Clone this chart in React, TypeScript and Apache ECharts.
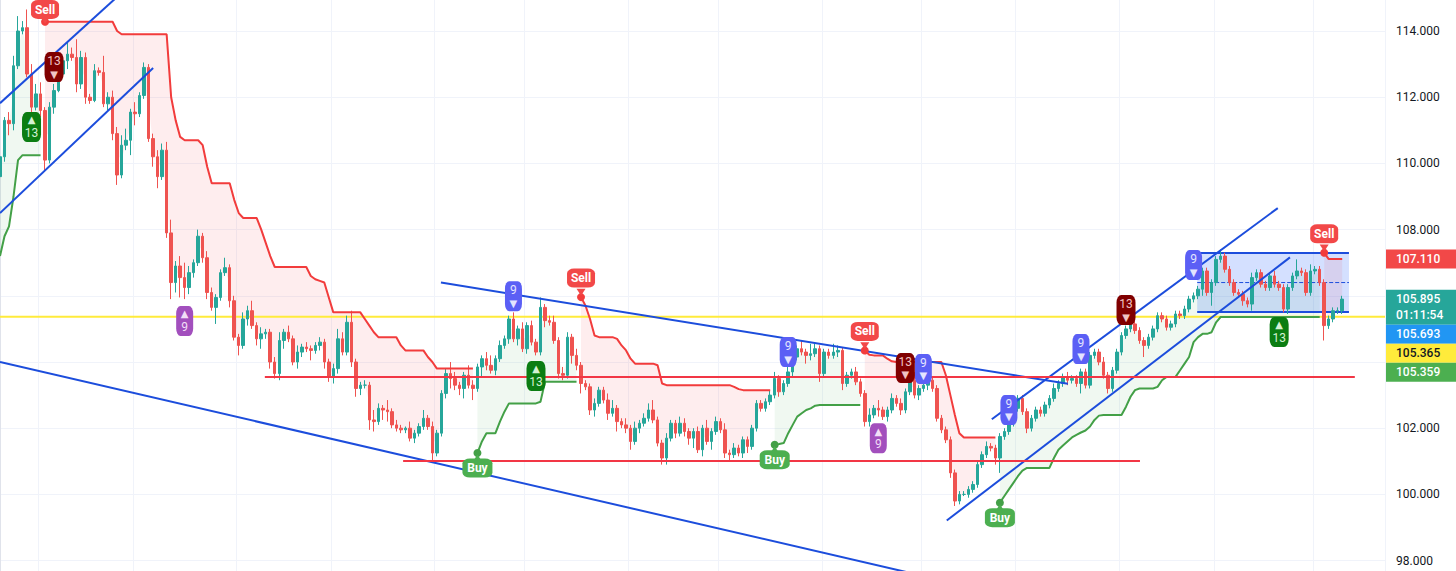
import React, { useEffect, useRef } from 'react';
import * as echarts from 'echarts';

const W = 1456;
const H = 571;

// ---------- price data (one candle per slot, open = previous close) ----------
const firstOpen = 109.6;
const closes = [
  110.2, 111.3, 111.2, 112.95, 114.0, 114.1, 112.7, 111.7, 112.1, 111.6,
  110.1, 111.7, 112.2, 112.7, 113.1, 113.3, 113.2, 112.4, 113.2, 112.0,
  111.9, 112.8, 112.75, 111.8, 112.0, 110.9, 109.65, 110.55, 110.7, 111.55,
  111.5, 112.05, 112.9, 110.75, 110.2, 109.6, 110.4, 107.9, 106.4, 106.9,
  106.55, 106.25, 106.7, 107.0, 107.8, 107.15, 106.1, 105.65, 105.95, 106.7,
  106.85, 105.85, 104.75, 104.5, 105.3, 105.55, 105.1, 104.7, 104.85, 104.9,
  104.0, 103.65, 104.65, 104.9, 104.7, 104.0, 104.3, 104.45, 104.4, 104.35,
  104.5, 104.6, 104.0, 103.55, 103.8, 104.7, 104.3, 105.2, 104.0, 103.2,
  103.3, 103.3, 102.25, 102.2, 102.6, 102.55, 102.5, 102.1, 102.0, 101.95,
  102.0, 101.7, 101.85, 102.05, 102.3, 102.05, 101.25, 101.85, 103.05, 103.65,
  103.5, 103.3, 103.2, 103.6, 103.3, 103.2, 103.85, 104.1, 103.9, 103.75,
  104.1, 104.5, 104.7, 105.3, 104.7, 105.0, 104.4, 105.1, 104.6, 104.3,
  105.65, 105.25, 105.2, 104.65, 103.65, 103.6, 104.75, 104.2, 103.9, 103.35,
  103.25, 102.55, 102.75, 103.15, 102.85, 102.45, 102.6, 102.2, 102.1, 102.0,
  101.6, 102.0, 102.15, 102.3, 102.55, 102.25, 101.55, 101.1, 101.7, 102.15,
  101.85, 102.15, 101.9, 101.7, 101.9, 101.35, 102.0, 101.6, 101.9, 102.2,
  101.95, 101.25, 101.2, 101.4, 101.25, 101.65, 101.45, 102.0, 102.75, 102.6,
  102.8, 103.0, 103.5, 103.1, 103.35, 103.7, 104.15, 104.4, 104.3, 104.2,
  104.25, 104.4, 103.65, 104.3, 104.2, 104.3, 104.35, 103.35, 103.6, 103.7,
  103.4, 103.05, 102.2, 102.4, 102.6, 102.55, 102.35, 102.55, 102.9, 102.75,
  102.55, 103.1, 103.45, 103.0, 103.2, 103.3, 103.45, 103.2, 102.3, 101.95,
  101.65, 100.65, 99.8, 100.0, 100.0, 100.15, 100.3, 100.9, 101.2, 101.45,
  101.4, 101.1, 101.75, 101.9, 102.15, 102.6, 102.9, 102.5, 102.0, 102.3,
  102.55, 102.45, 102.7, 102.9, 103.2, 103.35, 103.55, 103.45, 103.5, 103.35,
  103.7, 103.3, 104.2, 104.3, 104.0, 103.6, 103.2, 103.75, 104.3, 104.8,
  105.0, 105.15, 104.95, 104.65, 104.5, 104.75, 105.0, 105.4, 105.3, 105.05,
  105.15, 105.45, 105.4, 105.6, 105.9, 106.0, 106.2, 106.75, 106.1, 106.4,
  107.1, 107.2, 106.8, 106.4, 106.1, 106.05, 105.85, 105.75, 106.55, 106.7,
  106.35, 106.25, 106.6, 106.35, 106.25, 105.6, 106.25, 106.6, 106.75, 106.7,
  106.1, 106.75, 106.8, 106.4, 105.1, 105.3, 105.55, 105.55, 105.9,
];
const wickUp = [
  0.1, 0.1, 0.25, 0.3, 0.45, 0.2, 0.55, 0.3, 0.3, 0.35, 0.1, 0.15, 0.2, 0.1, 0.15, 0.35, 0.2, 0.55, 0.2, 0.15,
  0.1, 0.2, 0.1, 0.5, 0.15, 0.2, 0.2, 0.3, 0.35, 0.1, 0.3, 0.1, 0.15, 0.1, 0.15, 0.2, 0.2, 0.25, 0.4, 0.15,
  0.3, 0.45, 0.2, 0.1, 0.2, 0.1, 0.2, 0.15, 0.1, 0.1, 0.3, 0.1, 0.15, 0.1, 0.2, 0.15, 0.3, 0.1, 0.2, 0.1,
  0.1, 0.15, 0.25, 0.1, 0.2, 0.1, 0.2, 0.1, 0.15, 0.1, 0.1, 0.15, 0.1, 0.1, 0.15, 0.3, 0.2, 0.2, 0.35, 0.1,
  0.1, 0.15, 0.1, 0.3, 0.15, 0.1, 0.3, 0.1, 0.15, 0.1, 0.05, 0.2, 0.1, 0.1, 0.25, 0.1, 0.15, 0.1, 0.1, 0.15,
  0.35, 0.2, 0.1, 0.1, 0.3, 0.15, 0.1, 0.1, 0.2, 0.3, 0.1, 0.15, 0.1, 0.1, 0.2, 0.1, 0.2, 0.1, 0.15, 0.1,
  0.3, 0.1, 0.15, 0.2, 0.1, 0.2, 0.15, 0.1, 0.2, 0.1, 0.1, 0.1, 0.15, 0.1, 0.1, 0.2, 0.25, 0.1, 0.1, 0.2,
  0.1, 0.2, 0.1, 0.15, 0.2, 0.3, 0.1, 0.1, 0.15, 0.1, 0.1, 0.2, 0.15, 0.1, 0.1, 0.15, 0.1, 0.25, 0.1, 0.15,
  0.1, 0.2, 0.1, 0.15, 0.1, 0.1, 0.1, 0.1, 0.1, 0.1, 0.1, 0.15, 0.2, 0.1, 0.1, 0.15, 0.1, 0.1, 0.25, 0.1,
  0.3, 0.15, 0.1, 0.1, 0.1, 0.25, 0.15, 0.1, 0.1, 0.1, 0.15, 0.1, 0.1, 0.2, 0.1, 0.25, 0.1, 0.1, 0.15, 0.1,
  0.15, 0.1, 0.2, 0.25, 0.1, 0.1, 0.1, 0.1, 0.1, 0.1, 0.1, 0.1, 0.1, 0.1, 0.1, 0.1, 0.1, 0.1, 0.1, 0.15,
  0.1, 0.1, 0.1, 0.1, 0.1, 0.1, 0.1, 0.1, 0.1, 0.1, 0.1, 0.1, 0.1, 0.1, 0.15, 0.1, 0.1, 0.15, 0.1, 0.1,
  0.1, 0.1, 0.1, 0.1, 0.1, 0.15, 0.1, 0.1, 0.1, 0.1, 0.1, 0.1, 0.1, 0.1, 0.1, 0.1, 0.1, 0.1, 0.1, 0.1,
  0.1, 0.1, 0.1, 0.1, 0.1, 0.1, 0.1, 0.1, 0.1, 0.1, 0.1, 0.2, 0.1, 0.1, 0.1, 0.1, 0.1, 0.1, 0.15, 0.1,
  0.1, 0.1, 0.1, 0.15, 0.1, 0.1, 0.1, 0.1, 0.35, 0.1, 0.1, 0.2, 0.1, 0.1, 0.1, 0.1, 0.1, 0.1, 0.1,
];
const wickDn = [
  0.3, 0.15, 0.35, 0.2, 0.1, 0.1, 0.1, 0.15, 0.1, 0.2, 0.35, 0.1, 0.2, 0.05, 0.1, 0.25, 0.1, 0.25, 0.15, 0.2,
  0.1, 0.05, 0.1, 0.1, 0.2, 0.2, 0.3, 0.1, 0.15, 0.45, 0.35, 0.1, 0.1, 0.1, 0.3, 0.35, 0.1, 0.15, 0.5, 0.3,
  0.6, 0.35, 0.2, 0.15, 0.1, 0.15, 0.2, 0.1, 0.5, 0.1, 0.1, 0.2, 0.1, 0.3, 0.1, 0.2, 0.1, 0.2, 0.3, 0.15,
  0.2, 0.15, 0.2, 0.25, 0.1, 0.1, 0.2, 0.15, 0.1, 0.3, 0.1, 0.15, 0.2, 0.15, 0.2, 0.15, 0.1, 0.1, 0.15, 0.25,
  0.2, 0.1, 0.3, 0.3, 0.1, 0.3, 0.3, 0.1, 0.1, 0.1, 0.1, 0.1, 0.15, 0.1, 0.1, 0.1, 0.3, 0.1, 0.1, 0.15,
  0.3, 0.15, 0.2, 0.3, 0.1, 0.35, 0.1, 0.3, 0.15, 0.1, 0.15, 0.1, 0.1, 0.15, 0.1, 0.2, 0.1, 0.15, 0.1, 0.1,
  0.1, 0.2, 0.1, 0.1, 0.15, 0.15, 0.1, 0.25, 0.15, 0.3, 0.1, 0.15, 0.2, 0.1, 0.1, 0.2, 0.1, 0.3, 0.1, 0.15,
  0.25, 0.1, 0.15, 0.1, 0.1, 0.1, 0.1, 0.2, 0.2, 0.1, 0.15, 0.1, 0.15, 0.2, 0.3, 0.1, 0.2, 0.1, 0.25, 0.1,
  0.1, 0.15, 0.2, 0.1, 0.1, 0.15, 0.2, 0.1, 0.1, 0.1, 0.1, 0.1, 0.1, 0.15, 0.1, 0.1, 0.15, 0.1, 0.1, 0.25,
  0.15, 0.1, 0.25, 0.1, 0.1, 0.1, 0.15, 0.2, 0.1, 0.1, 0.1, 0.1, 0.15, 0.15, 0.1, 0.2, 0.1, 0.15, 0.1, 0.1,
  0.15, 0.1, 0.1, 0.1, 0.15, 0.1, 0.15, 0.1, 0.1, 0.1, 0.1, 0.15, 0.15, 0.1, 0.05, 0.1, 0.1, 0.1, 0.1, 0.1,
  0.1, 0.2, 0.45, 0.1, 0.1, 0.1, 0.1, 0.1, 0.15, 0.1, 0.1, 0.1, 0.1, 0.1, 0.1, 0.1, 0.1, 0.15, 0.1, 0.1,
  0.3, 0.1, 0.1, 0.1, 0.1, 0.1, 0.15, 0.1, 0.1, 0.1, 0.1, 0.1, 0.1, 0.1, 0.35, 0.1, 0.1, 0.1, 0.1, 0.1,
  0.1, 0.1, 0.1, 0.1, 0.1, 0.1, 0.1, 0.2, 0.1, 0.4, 0.1, 0.1, 0.1, 0.1, 0.1, 0.1, 0.15, 0.1, 0.2, 0.1,
  0.1, 0.1, 0.1, 0.1, 0.1, 0.1, 0.15, 0.1, 0.1, 0.1, 0.1, 0.1, 0.1, 0.1, 0.45, 0.1, 0.1, 0.1, 0.1,
];

// ---------- Supertrend segments ----------
const upStarts = [0, 106, 172, 222];
const upSeg0 = [107.2, 107.8, 108.1, 109.0, 110.1, 110.25, 110.25, 110.25, 110.25, 110.25];
const upSeg1 = [101.25, 101.6, 101.85, 101.85, 101.85, 102.2, 102.5, 102.75, 102.75, 102.75, 102.75, 102.75,
  102.75, 102.75, 102.8, 103.4, 103.4, 103.4, 103.4, 103.4, 103.4, 103.4, 103.4];
const upSeg2 = [101.5, 101.52, 101.55, 101.85, 102.1, 102.35, 102.45, 102.55, 102.6, 102.68,
  102.7, 102.7, 102.7, 102.7, 102.7, 102.7, 102.7, 102.7, 102.7, 102.7];
const upSeg3 = [99.75, 99.95, 100.15, 100.35, 100.55, 100.72, 100.8, 100.8, 100.8, 100.8, 100.8, 100.8,
  101.1, 101.35, 101.48, 101.6, 101.72, 101.8, 101.87, 101.93, 102.05, 102.25, 102.38,
  102.4, 102.4, 102.4, 102.4, 102.4, 102.65, 102.95, 103.15, 103.2, 103.2, 103.2, 103.2,
  103.25, 103.45, 103.55, 103.55, 103.55, 103.75, 103.95, 104.15, 104.6, 104.75, 104.85, 104.85, 104.9, 105.2,
  105.36, 105.36, 105.36, 105.36, 105.36, 105.36, 105.36, 105.36, 105.36, 105.36, 105.36, 105.36,
  105.36, 105.36, 105.36, 105.36, 105.36, 105.36, 105.36, 105.36, 105.36, 105.36, 105.36];
const dnStarts = [10, 129, 192, 294];
const dnSeg0 = [114.28, 114.28, 114.28, 114.28, 114.28, 114.28, 114.28, 114.28, 114.28, 114.28, 114.28, 114.28,
  114.28, 114.28, 114.28, 114.28, 114.0, 113.9, 113.9, 113.9, 113.9, 113.9, 113.9, 113.9, 113.9, 113.9, 113.9, 113.9,
  112.0, 111.3, 110.8, 110.7, 110.7, 110.7, 110.7, 110.55, 109.9, 109.4, 109.4, 109.4, 109.4, 109.4,
  108.9, 108.5, 108.35, 108.35, 108.35, 108.35, 108.0, 107.6, 107.2,
  106.87, 106.87, 106.87, 106.87, 106.87, 106.87, 106.87, 106.87, 106.6, 106.5, 106.45, 106.4, 105.95,
  105.5, 105.5, 105.5, 105.5, 105.5, 105.5, 105.5, 105.3, 105.1, 104.9, 104.75, 104.75, 104.75, 104.75, 104.75,
  104.5, 104.35, 104.35, 104.35, 104.35, 104.35, 104.15, 104.0, 103.8, 103.8, 103.8, 103.8, 103.8, 103.8, 103.8, 103.8, 103.8];
const dnSeg1 = [105.96, 105.7, 105.3, 104.8, 104.75, 104.75, 104.75, 104.75, 104.7, 104.5, 104.35, 104.1,
  103.95, 103.95, 103.95, 103.95, 103.95, 103.9, 103.35, 103.3, 103.3, 103.3, 103.3, 103.3, 103.3, 103.3,
  103.3, 103.3, 103.3, 103.3, 103.3, 103.3, 103.3, 103.3, 103.25, 103.18, 103.15, 103.15, 103.15, 103.15,
  103.15, 103.15, 103.15];
const dnSeg2 = [104.35, 104.22, 104.2, 104.2, 104.2, 104.1, 104.02, 104.0, 104.0, 104.0, 104.0, 104.0,
  104.0, 104.0, 104.0, 104.0, 104.0, 104.0, 103.6, 103.0, 102.4, 101.85, 101.72, 101.72, 101.72, 101.72,
  101.72, 101.72, 101.72, 101.72];
const dnSeg3 = [107.3, 107.11, 107.11, 107.11, 107.11];

// ---------- TD sequential labels [bar, price of label centre] ----------
const tdBlue9 = [[114, 105.99], [175, 104.3], [205, 103.79], [224, 102.55], [240, 104.39], [265, 106.93]];
const tdRed13 = [[12, 112.91], [201, 103.82], [250, 105.57]];
const tdGreen13 = [[7, 111.1], [119, 103.58], [284, 104.91]];
const tdPurple9 = [[41, 105.24], [195, 101.7]];

// ---------- drawings (bar index, price) ----------
const lineLowerDesc = [[0, 104.0], [222, 97.0]];
const lineUpperDesc = [[97.9, 106.4], [237.1, 103.34]];
const lineTopLeftA = [[0, 111.82], [29, 115.4]];
const lineTopLeftB = [[0, 108.5], [34, 112.88]];
const lineChanLow = [[210.2, 99.21], [286.4, 107.16]];
const lineChanHigh = [[220.2, 102.27], [283.7, 108.65]];
const levelHigh = [[58.8, 103.55], [300.8, 103.55]];
const levelLow = [[89.5, 101.01], [253.1, 101.01]];
const yellowLevel = 105.365;
const boxX = [265.8, 299.5];
const boxY = [107.29, 105.51];

// ---------- price-scale tags ----------
const tagValues = [107.11, 105.895, 105.693, 105.365, 105.359];
const tagCountdown = '01:11:54';
const tagFills = ['#f24848', '#26a69a', '#2196f3', '#ffeb3b', '#4caf50'];
const tagInk = ['#ffffff', '#ffffff', '#ffffff', '#131722', '#ffffff'];

const vGridBars = [9, 30, 53, 74, 97, 117, 140, 160, 183, 205, 226, 249, 270, 292];

const NSLOT = 308;
const GRID_LEFT = -2.25;
const GRID_RIGHT = 71;
const GRID_TOP = -35.2;
const GRID_BOTTOM = -55.8;
const Y_MIN = 96;
const Y_MAX = 116;
const Y_STEP = 2;

const RED = '#f23c3c';
const GREEN = '#43a047';
const BLUE = '#1c4ddc';

function fillSeg(starts: number[], segs: number[][]) {
  const out: (number | null)[] = new Array(closes.length).fill(null);
  starts.forEach((s, k) => segs[k].forEach((v, j) => { out[s + j] = v; }));
  return out;
}

export default function App() {
  const ref = useRef<HTMLDivElement>(null);

  useEffect(() => {
    document.body.style.margin = '0';
    const chart = echarts.init(ref.current!, undefined, { renderer: 'svg', width: W, height: H });

    const opens = closes.map((c, i) => (i === 0 ? firstOpen : closes[i - 1]));
    const candle = closes.map((c, i) => {
      const o = opens[i];
      return [o, c, Math.min(o, c) - wickDn[i], Math.max(o, c) + wickUp[i]];
    });
    const mids = closes.map((c, i) => (c + opens[i]) / 2);
    const stUp = fillSeg(upStarts, [upSeg0, upSeg1, upSeg2, upSeg3]);
    const stDn = fillSeg(dnStarts, [dnSeg0, dnSeg1, dnSeg2, dnSeg3]);

    const redBase = stDn.map((v, i) => (v == null ? '-' : Math.min(v, mids[i])));
    const redBand = stDn.map((v, i) => (v == null ? '-' : Math.abs(v - mids[i])));
    const grnBase = stUp.map((v, i) => (v == null ? '-' : Math.min(v, mids[i])));
    const grnBand = stUp.map((v, i) => (v == null ? '-' : Math.abs(mids[i] - v)));

    const cats = Array.from({ length: NSLOT }, (_, i) => String(i));
    const sellBars = dnStarts;
    const buyBars = upStarts.slice(1);

    const drawLine = (id: string, data: number[][], color: string, width = 2, type = 'solid', z = 6) => ({
      id, type: 'line', xAxisIndex: 1, yAxisIndex: 0, data, symbol: 'none', silent: true, z,
      lineStyle: { color, width, type },
    });

    const tdSeries = (id: string, pts: number[][], color: string, ink: string, num: string, down: boolean, w: number) => ({
      id, type: 'scatter', xAxisIndex: 0, yAxisIndex: 0, data: pts, symbol: 'roundRect', symbolSize: [w, 30],
      itemStyle: { color, opacity: 1 }, z: 20, silent: true,
      label: {
        show: true, position: 'inside',
        formatter: down ? `{n|${num}}\n{t|▼}` : `{t|▲}\n{n|${num}}`,
        rich: {
          n: { fontSize: 12, color: ink, lineHeight: 14, fontFamily: 'Roboto, DejaVu Sans, sans-serif' },
          t: { fontSize: 10, color: ink, lineHeight: 12, fontFamily: 'DejaVu Sans, sans-serif' },
        },
      },
    });

    const hiddenTicks = new Set<number>();
    const yLabel = (v: number) => (hiddenTicks.has(Math.round(v * 1000)) ? '' : v.toFixed(3));

    const option: any = {
      animation: false,
      backgroundColor: '#ffffff',
      grid: { left: GRID_LEFT, right: GRID_RIGHT, top: GRID_TOP, bottom: GRID_BOTTOM, containLabel: false, outerBoundsMode: 'none' },
      xAxis: [
        {
          type: 'category', data: cats, boundaryGap: true,
          axisLine: { show: false }, axisTick: { show: false }, axisLabel: { show: false },
          splitLine: { show: true, interval: (idx: number) => vGridBars.includes(idx), lineStyle: { color: '#f0f3fa', width: 1 } },
        },
        { type: 'value', min: -0.5, max: NSLOT - 0.5, show: false },
      ],
      yAxis: [{
        type: 'value', position: 'right', min: Y_MIN, max: Y_MAX, interval: Y_STEP, scale: false,
        axisLine: { show: true, lineStyle: { color: '#e0e3eb', width: 1 } },
        axisTick: { show: false },
        splitLine: { show: true, lineStyle: { color: '#f0f3fa', width: 1 } },
        axisLabel: {
          margin: 11, color: '#131722', fontSize: 12, fontFamily: 'Roboto, sans-serif',
          showMinLabel: false, showMaxLabel: false,
          formatter: yLabel,
        },
      }],
      series: [
        { id: 'redBase', type: 'line', stack: 'red', data: redBase, symbol: 'none', silent: true, lineStyle: { width: 0, opacity: 0 }, z: 1 },
        { id: 'redBand', type: 'line', stack: 'red', data: redBand, symbol: 'none', silent: true, lineStyle: { width: 0, opacity: 0 }, areaStyle: { color: 'rgba(242,54,69,0.13)' }, z: 1 },
        { id: 'grnBase', type: 'line', stack: 'grn', data: grnBase, symbol: 'none', silent: true, lineStyle: { width: 0, opacity: 0 }, z: 1 },
        { id: 'grnBand', type: 'line', stack: 'grn', data: grnBand, symbol: 'none', silent: true, lineStyle: { width: 0, opacity: 0 }, areaStyle: { color: 'rgba(76,175,80,0.12)' }, z: 1 },
        {
          id: 'box', type: 'line', xAxisIndex: 1, yAxisIndex: 0, symbol: 'none', silent: true, z: 2,
          data: [[boxX[0], boxY[0]], [boxX[1], boxY[0]]], lineStyle: { color: BLUE, width: 2 },
          markArea: {
            silent: true, itemStyle: { color: 'rgba(41,98,255,0.2)' },
            data: [[{ coord: [boxX[0], boxY[0]] }, { coord: [boxX[1], boxY[1]] }]],
          },
        },
        drawLine('boxBottom', [[boxX[0], boxY[1]], [boxX[1], boxY[1]]], BLUE, 2, 'solid', 2),
        drawLine('boxMid', [[boxX[0], (boxY[0] + boxY[1]) / 2], [boxX[1], (boxY[0] + boxY[1]) / 2]], BLUE, 1, 'dashed', 2),
        drawLine('yellow', [[-0.5, yellowLevel], [NSLOT - 0.5, yellowLevel]], '#ffeb3b', 2, 'solid', 2),
        {
          id: 'candles', type: 'candlestick', data: candle, barWidth: 3, z: 3, silent: true,
          itemStyle: { color: '#26a69a', color0: '#ef5350', borderColor: '#26a69a', borderColor0: '#ef5350', borderWidth: 1 },
        },
        { id: 'stDn', type: 'line', data: stDn, symbol: 'none', silent: true, connectNulls: false, lineStyle: { color: RED, width: 2 }, z: 4 },
        { id: 'stUp', type: 'line', data: stUp, symbol: 'none', silent: true, connectNulls: false, lineStyle: { color: GREEN, width: 2 }, z: 4 },
        drawLine('l1', lineLowerDesc, BLUE),
        drawLine('l2', lineUpperDesc, BLUE),
        drawLine('l3', lineTopLeftA, BLUE),
        drawLine('l4', lineTopLeftB, BLUE),
        drawLine('l5', lineChanLow, BLUE),
        drawLine('l6', lineChanHigh, BLUE),
        drawLine('h1', levelHigh, '#f23645', 2),
        drawLine('h2', levelLow, '#f23645', 2),
        tdSeries('td9b', tdBlue9, '#5b5ff5', '#e4e4ff', '9', true, 17),
        tdSeries('td13r', tdRed13, '#800000', '#f0c4c4', '13', true, 19),
        tdSeries('td13g', tdGreen13, '#0b7d12', '#d4f2d4', '13', false, 19),
        tdSeries('td9p', tdPurple9, '#a24fbd', '#f2def7', '9', false, 17),
        { id: 'sellDot', type: 'scatter', data: sellBars.map((i) => [i, stDn[i]]), symbol: 'circle', symbolSize: 8, itemStyle: { color: RED, opacity: 1 }, z: 21, silent: true },
        { id: 'buyDot', type: 'scatter', data: buyBars.map((i) => [i, stUp[i]]), symbol: 'circle', symbolSize: 8, itemStyle: { color: GREEN, opacity: 1 }, z: 21, silent: true },
      ],
    };
    chart.setOption(option);

    // second pass: label offsets and price-scale tags from the axis scale
    const py = (v: number) => chart.convertToPixel({ yAxisIndex: 0 }, v) as number;
    const sellTag: any[] = [];
    const sellPtr: any[] = [];
    sellBars.forEach((i) => {
      const y = py(stDn[i] as number);
      const c = Math.max(y - 19, 9.5);
      sellTag.push({ value: [i, stDn[i]], symbolOffset: [0, c - y] });
      sellPtr.push({ value: [i, stDn[i]], symbolOffset: [0, (c + 9.5 + y) / 2 - y] });
    });
    const buyTag = buyBars.map((i) => ({ value: [i, stUp[i]], symbolOffset: [0, 15] }));
    const buyPtr = buyBars.map((i) => ({ value: [i, stUp[i]], symbolOffset: [0, 5] }));

    const tagEls: any[] = [];
    const boxes: number[][] = [];
    let prevBottom = -Infinity;
    const axisX = W - GRID_RIGHT;
    tagValues.forEach((v, k) => {
      const y = py(v);
      const h = k === 1 ? 35 : 19;
      const top = Math.max(y - 9.5, prevBottom);
      prevBottom = top + h;
      boxes.push([top, top + h]);
      tagEls.push({ type: 'rect', shape: { x: axisX + 1, y: top, width: W - axisX - 1, height: h }, style: { fill: tagFills[k] }, z: 100 });
      const txt = k === 1 ? `${v.toFixed(3)}\n${tagCountdown}` : v.toFixed(3);
      tagEls.push({
        type: 'text', z: 101,
        style: {
          text: txt, x: axisX + 11, y: top + h / 2, fill: tagInk[k],
          font: '500 12px Roboto, sans-serif', verticalAlign: 'middle', textVerticalAlign: 'middle', lineHeight: 16,
        },
      });
    });

    // hide price-scale labels hidden behind tags or outside the picture
    for (let t = Y_MIN; t <= Y_MAX + 1e-9; t += Y_STEP) {
      const y = py(t);
      const covered = boxes.some(([a, b]) => y + 7 > a && y - 7 < b);
      if (covered || y < 8 || y > H - 8) hiddenTicks.add(Math.round(t * 1000));
    }

    chart.setOption({
      yAxis: [{ axisLabel: { formatter: yLabel } }],
      series: [
        {
          id: 'sellPtr', type: 'scatter', data: sellPtr, symbol: 'triangle', symbolRotate: 180, symbolSize: [9, 7],
          itemStyle: { color: '#f24848', opacity: 1 }, z: 22, silent: true,
        },
        {
          id: 'sellTag', type: 'scatter', data: sellTag, symbol: 'roundRect', symbolSize: [28, 19],
          itemStyle: { color: '#f24848', opacity: 1 }, z: 23, silent: true,
          label: { show: true, position: 'inside', formatter: 'Sell', color: '#ffffff', fontSize: 12, fontWeight: 'bold', fontFamily: 'Roboto, sans-serif' },
        },
        {
          id: 'buyPtr', type: 'scatter', data: buyPtr, symbol: 'triangle', symbolSize: [9, 7],
          itemStyle: { color: '#4caf50', opacity: 1 }, z: 22, silent: true,
        },
        {
          id: 'buyTag', type: 'scatter', data: buyTag, symbol: 'roundRect', symbolSize: [30, 19],
          itemStyle: { color: '#4caf50', opacity: 1 }, z: 23, silent: true,
          label: { show: true, position: 'inside', formatter: 'Buy', color: '#ffffff', fontSize: 12, fontWeight: 'bold', fontFamily: 'Roboto, sans-serif' },
        },
      ],
      graphic: tagEls,
    });

    return () => chart.dispose();
  }, []);

  return <div ref={ref} style={{ width: W, height: H }} />;
}
